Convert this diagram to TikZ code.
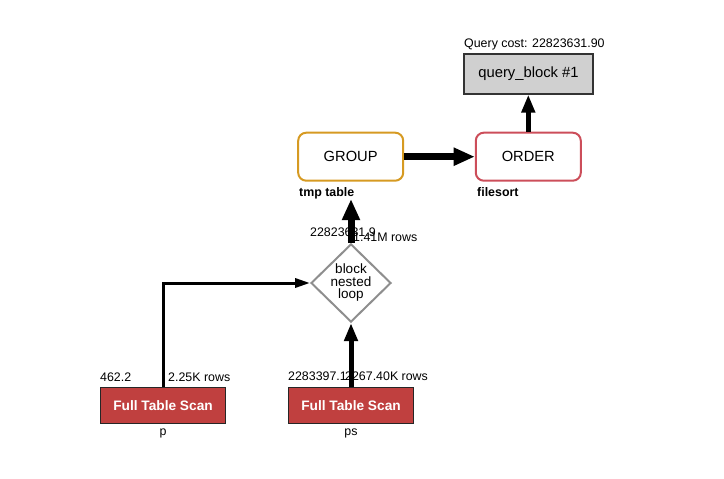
\documentclass[tikz,border=0pt]{standalone}
\usepackage{fontspec}
\setmainfont{Liberation Sans}
\usepackage{tikz}
\usetikzlibrary{arrows.meta}
\usetikzlibrary{shapes.geometric}

\definecolor{groupline}{HTML}{D69A22}
\definecolor{orderline}{HTML}{CC4E5A}
\definecolor{scanfill}{HTML}{C0403F}
\definecolor{blockfill}{HTML}{D0D0D0}
\definecolor{loopline}{HTML}{8E8E8E}

\tikzset{
    opbox/.style={draw,rounded corners=8pt,line width=2pt,minimum width=105pt,minimum height=48pt,font=\fontsize{14.7}{16}\selectfont},
    scanbox/.style={draw=black!85,fill=scanfill,line width=1pt,minimum width=125pt,minimum height=36pt,text=white,font=\bfseries\fontsize{13.7}{15}\selectfont},
    flow/.style={-{Triangle[length=10pt 1.6,width=3pt 2]}},
    lbl/.style={anchor=base west,inner sep=0pt,font=\fontsize{12.4}{14}\selectfont},
}

\begin{document}
\begin{tikzpicture}[x=1pt,y=-1pt]
        \useasboundingbox (0,0) rectangle (724,479);

        \node[draw=black!80,fill=blockfill,line width=1.2pt,minimum width=129pt,minimum height=40pt,font=\fontsize{14.8}{16}\selectfont] (qblock) at (528.5,74) {query\_block \#1};
        \node[lbl] (qcost) at (464,47) {Query cost: 22823631.90};

        \node[opbox,draw=groupline] (group) at (350.7,156.7) {GROUP};
        \node[opbox,draw=orderline] (order) at (528.3,156.7) {ORDER};
        \node[lbl,font=\bfseries\fontsize{12.4}{14}\selectfont] (tmptable) at (299,196) {tmp table};
        \node[lbl,font=\bfseries\fontsize{12.4}{14}\selectfont] (filesort) at (477,196) {filesort};

        \node[diamond,draw=loopline,line width=2pt,minimum width=80pt,minimum height=78pt,inner sep=0pt,align=center,font=\fontsize{13.5}{12.5}\selectfont] (bnl) at (351,283) {block\\nested\\loop};
        \coordinate (groupin) at (351,199);

        \node[scanbox] (scanp) at (163,405.5) {Full Table Scan};
        \node[scanbox] (scanps) at (351,405.5) {Full Table Scan};
        \node[anchor=base,inner sep=0pt,font=\fontsize{12.4}{14}\selectfont] (tp) at (163,435) {p};
        \node[anchor=base,inner sep=0pt,font=\fontsize{12.4}{14}\selectfont] (tps) at (351,435) {ps};

        \draw[flow,line width=3pt] (scanp.north) |- (bnl.west);
        \draw[flow,line width=5pt] (scanps.north) -- (bnl.south);
        \draw[flow,line width=7pt] (bnl.north) -- (groupin);
        \draw[flow,line width=7pt] (group.east) -- (order.west);
        \draw[flow,line width=5pt] (order.north) -- (order.north |- qblock.south);

        \node[lbl] (costp) at (100,381) {462.2};
        \node[lbl] (rowsp) at (168,381) {2.25K rows};
        \node[lbl] (costps) at (288,380) {2283397.1};
        \node[lbl] (rowsps) at (345,380) {2267.40K rows};
        \node[lbl] (costbnl) at (310,236) {22823631.9};
        \node[lbl] (rowsbnl) at (347,241) {11.41M rows};
    \end{tikzpicture}
\end{document}
